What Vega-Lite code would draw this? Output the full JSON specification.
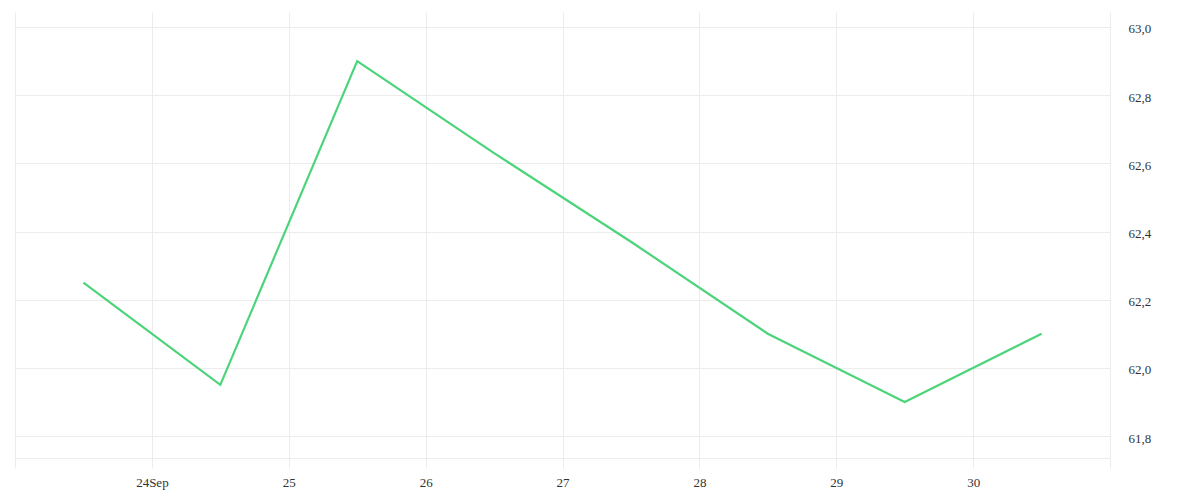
{
  "$schema": "https://vega.github.io/schema/vega-lite/v6.json",
  "width": 1095,
  "height": 446,
  "autosize": "none",
  "padding": {"left": 15, "top": 12, "right": 90, "bottom": 42},
  "background": "white",
  "view": {"stroke": null},
  "config": {
    "font": "Liberation Serif",
    "axis": {
      "labelFont": "Liberation Serif",
      "labelFontSize": 13,
      "labelColor": "#333333",
      "gridColor": "#ececec",
      "gridWidth": 1,
      "title": null
    }
  },
  "data": {
    "values": [
      {"date": "2023-09-23T12:00:00Z", "value": 62.25},
      {"date": "2023-09-24T12:00:00Z", "value": 61.95},
      {"date": "2023-09-25T12:00:00Z", "value": 62.9},
      {"date": "2023-09-26T12:00:00Z", "value": 62.63},
      {"date": "2023-09-27T12:00:00Z", "value": 62.37},
      {"date": "2023-09-28T12:00:00Z", "value": 62.1},
      {"date": "2023-09-29T12:00:00Z", "value": 61.9},
      {"date": "2023-09-30T12:00:00Z", "value": 62.1}
    ]
  },
  "mark": {"type": "line", "color": "#4cd47a", "strokeWidth": 2.2},
  "encoding": {
    "x": {
      "field": "date",
      "type": "temporal",
      "scale": {
        "type": "utc",
        "domain": [
          {"year": 2023, "month": 9, "date": 23, "utc": true},
          {"year": 2023, "month": 10, "date": 1, "utc": true}
        ]
      },
      "axis": {
        "orient": "bottom",
        "grid": true,
        "values": [
          {"year": 2023, "month": 9, "date": 23, "utc": true},
          {"year": 2023, "month": 9, "date": 24, "utc": true},
          {"year": 2023, "month": 9, "date": 25, "utc": true},
          {"year": 2023, "month": 9, "date": 26, "utc": true},
          {"year": 2023, "month": 9, "date": 27, "utc": true},
          {"year": 2023, "month": 9, "date": 28, "utc": true},
          {"year": 2023, "month": 9, "date": 29, "utc": true},
          {"year": 2023, "month": 9, "date": 30, "utc": true},
          {"year": 2023, "month": 10, "date": 1, "utc": true}
        ],
        "labelExpr": "utcdate(datum.value) == 24 ? '24Sep' : (utcdate(datum.value) == 23 || utcmonth(datum.value) == 9 ? '' : '' + utcdate(datum.value))",
        "labelFont": "Liberation Serif",
        "labelOverlap": false,
        "labelBound": false,
        "labelFlush": false,
        "domain": true,
        "domainColor": "#ececec",
        "ticks": true,
        "tickColor": "#ececec",
        "tickSize": 10,
        "labelPadding": 8
      }
    },
    "y": {
      "field": "value",
      "type": "quantitative",
      "scale": {"domain": [61.7355, 63.044], "zero": false, "nice": false},
      "axis": {
        "orient": "right",
        "grid": true,
        "values": [61.8, 62.0, 62.2, 62.4, 62.6, 62.8, 63.0],
        "labelExpr": "replace(format(datum.value, '.1f'), '.', ',')",
        "labelFont": "Liberation Serif",
        "domain": false,
        "ticks": false,
        "labelPadding": 18,
        "labelOffset": 2,
        "labelAlign": "left",
        "labelOverlap": false
      }
    }
  }
}
